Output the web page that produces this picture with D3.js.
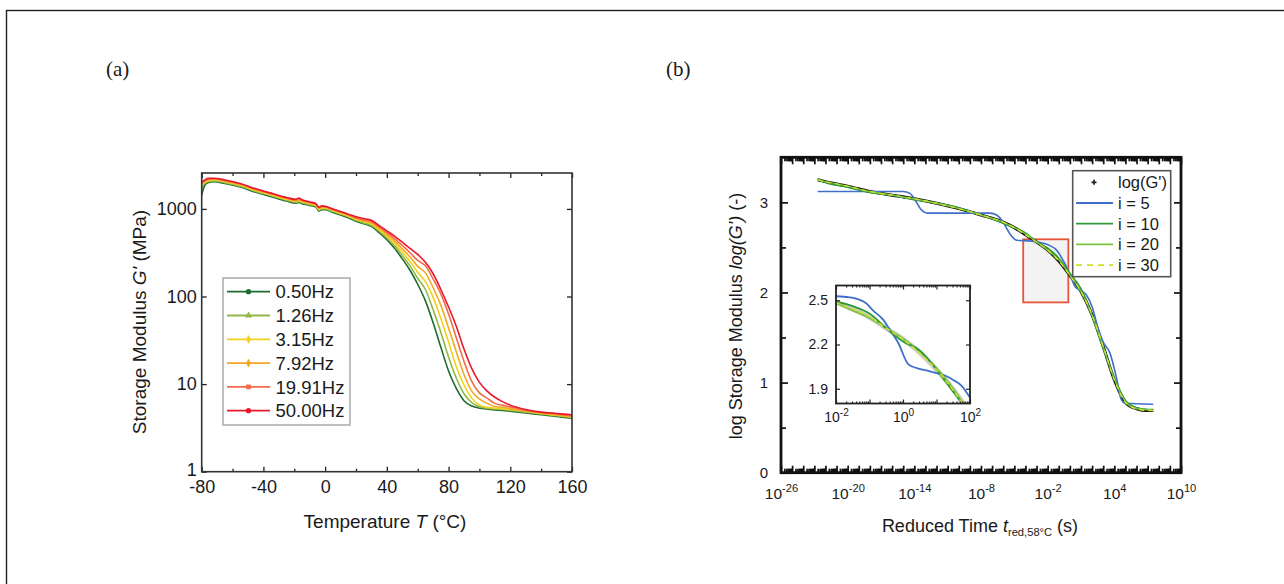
<!DOCTYPE html>
<html><head><meta charset="utf-8">
<script src="https://cdn.jsdelivr.net/npm/d3@7"></script>
<style>body{margin:0;background:#fff}svg{display:block}</style>
</head><body>
<svg id="c" width="1284" height="584"></svg>
<script>
// ---------- Panel (a) data ----------
const tempC = [-80,-78,-76,-72,-65,-55,-45,-35,-25,-19,-17,-15,-10,-6,-4,-2,0,5,10,15,20,25,30,35,40,45,50,55,60,65,70,75,80,85,90,95,100,105,110,115,120,130,140,150,160];
const freqLabels = ["0.50Hz","1.26Hz","3.15Hz","7.92Hz","19.91Hz","50.00Hz"];
const freqColors = ["#1e6b30","#8fb848","#f2d21a","#f5a623","#f26b4a","#e8192c"];
const freqSymbols = ["circle","triangle","diamond","diamond","square","circle"];
// log10 of storage modulus G' (MPa)
const logG_050 = [3.16,3.27,3.30,3.31,3.29,3.25,3.19,3.14,3.09,3.065,3.075,3.06,3.04,3.02,2.975,2.99,2.99,2.96,2.93,2.90,2.86,2.83,2.80,2.73,2.65,2.55,2.43,2.30,2.14,1.95,1.70,1.42,1.15,0.95,0.81,0.75,0.725,0.715,0.705,0.70,0.69,0.67,0.65,0.63,0.61];
const logG_126 = [3.24,3.29,3.31,3.32,3.30,3.26,3.20,3.15,3.10,3.075,3.085,3.07,3.05,3.03,2.985,3.00,3.00,2.97,2.94,2.91,2.87,2.84,2.814,2.746,2.67,2.578,2.468,2.35,2.208,2.08,1.85,1.59,1.31,1.07,0.89,0.79,0.74,0.725,0.715,0.71,0.70,0.68,0.66,0.64,0.62];
const logG_315 = [3.28,3.30,3.32,3.33,3.31,3.27,3.21,3.16,3.11,3.085,3.095,3.08,3.06,3.04,2.995,3.01,3.01,2.98,2.95,2.92,2.88,2.855,2.828,2.762,2.69,2.606,2.506,2.40,2.276,2.17,1.99,1.75,1.48,1.20,0.99,0.84,0.76,0.735,0.725,0.72,0.71,0.69,0.665,0.645,0.625];
const logG_792 = [3.29,3.31,3.33,3.34,3.32,3.28,3.22,3.17,3.12,3.095,3.105,3.09,3.07,3.05,3.005,3.02,3.02,2.99,2.96,2.93,2.89,2.865,2.842,2.778,2.71,2.634,2.544,2.45,2.344,2.27,2.10,1.90,1.64,1.37,1.11,0.92,0.83,0.78,0.745,0.735,0.72,0.695,0.67,0.65,0.63];
const logG_1991 = [3.30,3.32,3.34,3.345,3.325,3.285,3.225,3.175,3.125,3.10,3.115,3.10,3.075,3.055,3.015,3.03,3.025,2.995,2.965,2.935,2.90,2.875,2.856,2.794,2.73,2.662,2.582,2.50,2.412,2.35,2.20,2.03,1.80,1.53,1.26,1.03,0.90,0.84,0.78,0.76,0.74,0.70,0.675,0.66,0.64];
const logG_5000 = [3.31,3.33,3.35,3.35,3.33,3.29,3.23,3.18,3.13,3.11,3.125,3.105,3.08,3.06,3.02,3.035,3.03,3.00,2.97,2.94,2.91,2.89,2.87,2.81,2.75,2.69,2.62,2.55,2.48,2.39,2.26,2.08,1.88,1.66,1.40,1.18,1.02,0.92,0.85,0.80,0.76,0.71,0.68,0.665,0.65];
const xTicksA = [-80,-40,0,40,80,120,160];
const xMinorA = [-60,-20,20,60,100,140];
const yTicksA = [1,10,100,1000];

// ---------- Panel (b) data (x = exponent of reduced time, s) ----------
const tExpMain = [-22.7,-22,-20,-18,-16,-14,-12,-10,-8,-6,-5,-4,-3,-2,-1,0,1,2,3,4,5,6,7,7.5];
const logGData = [3.25,3.23,3.18,3.12,3.08,3.04,2.99,2.93,2.86,2.78,2.72,2.64,2.56,2.47,2.35,2.19,2.01,1.75,1.40,1.03,0.78,0.71,0.69,0.69];
const fitI10 = [3.26,3.22,3.17,3.11,3.08,3.03,2.99,2.94,2.86,2.77,2.72,2.66,2.56,2.49,2.38,2.21,2.04,1.74,1.38,1.05,0.80,0.72,0.70,0.70];
const fitI20 = [3.25,3.23,3.18,3.12,3.08,3.04,2.99,2.93,2.86,2.78,2.72,2.65,2.56,2.47,2.36,2.19,2.01,1.75,1.40,1.04,0.79,0.71,0.70,0.69];
const fitI30 = [3.25,3.23,3.18,3.12,3.08,3.04,2.99,2.93,2.86,2.78,2.72,2.64,2.56,2.47,2.35,2.19,2.01,1.75,1.40,1.03,0.78,0.71,0.69,0.69];
const tExpI5 = [-22.7,-15.0,-14.4,-13.9,-13.4,-12.8,-7.2,-6.6,-6.0,-5.4,-4.8,-3.5,-2.5,-1.8,-1.2,-0.5,0,0.5,1.0,1.5,2.0,2.5,3.0,3.6,4.2,4.6,5.0,7.5];
const fitI5 = [3.12,3.12,3.10,3.02,2.92,2.88,2.88,2.86,2.78,2.65,2.58,2.57,2.55,2.52,2.47,2.33,2.20,2.06,2.02,1.97,1.84,1.62,1.45,1.33,1.05,0.82,0.77,0.76];
const xTicksB = [-26,-20,-14,-8,-2,4,10];
const yTicksB = [0,1,2,3];
const fitLabels = ["log(G')","i = 5","i = 10","i = 20","i = 30"];
const fitColors = ["#111","#3f6fc8","#2a9a3a","#7cc444","#d2df2a"];
const zoomBoxX = [-4.2,-0.14];
const zoomBoxY = [1.89,2.59];
// inset
const tExpInsetI5 = [-2,-1.6,-1.38,-1.1,-0.89,-0.6,-0.39,-0.14,0.16,0.41,0.7,1.0,1.3,1.5,1.75,2.0];
const insetI5 = [2.527,2.52,2.51,2.48,2.43,2.37,2.30,2.21,2.065,2.04,2.025,2.006,1.985,1.96,1.92,1.84];
const tExpInset = [-2,-1.5,-1,-0.5,0,0.5,1,1.5,1.8];
const insetData = [2.49,2.44,2.385,2.31,2.235,2.145,2.03,1.895,1.80];
const insetI10 = [2.49,2.46,2.41,2.31,2.22,2.16,2.03,1.88,1.79];
const insetI20 = [2.48,2.43,2.38,2.31,2.24,2.15,2.04,1.90,1.80];
const insetI30 = [2.485,2.44,2.39,2.31,2.235,2.14,2.03,1.89,1.79];
const insetXTicks = [-2,0,2];
const insetYTicks = [1.9,2.2,2.5];

// ---------- drawing ----------
const FONT = "Liberation Sans, Arial, sans-serif";
const TXT = "#1a1a1a";
const svg = d3.select("#c");
svg.append("rect").attr("x",6.5).attr("y",10.5).attr("width",1400).attr("height",700)
  .attr("fill","none").attr("stroke","#222").attr("stroke-width",1.4);
svg.append("text").attr("x",106).attr("y",76).attr("font-family","Liberation Serif, serif")
  .attr("font-size",21).attr("fill",TXT).text("(a)");
svg.append("text").attr("x",666).attr("y",76).attr("font-family","Liberation Serif, serif")
  .attr("font-size",21).attr("fill",TXT).text("(b)");

function styleAxis(g, size){
  g.select(".domain").remove();
  g.selectAll(".tick line").attr("stroke","#222").attr("stroke-width",1.3);
  g.selectAll(".tick text").attr("font-family",FONT).attr("font-size",size).attr("fill",TXT);
}

// ===== Panel (a) =====
{
  const A = {l:201.7, r:572, t:173, b:471.7};
  const x = d3.scaleLinear([-80,160],[A.l,A.r]);
  const y = d3.scaleLog([1,2570],[A.b,A.t]);
  const g = svg.append("g");
  const cid = "clipA";
  svg.append("clipPath").attr("id",cid).append("rect").attr("x",A.l).attr("y",A.t).attr("width",A.r-A.l).attr("height",A.b-A.t);
  const series = [logG_050,logG_126,logG_315,logG_792,logG_1991,logG_5000];
  const line = d3.line().x((d,i)=>x(tempC[i])).y(d=>y(Math.pow(10,d))).curve(d3.curveMonotoneX);
  const cg = g.append("g").attr("clip-path",`url(#${cid})`);
  series.forEach((s,k)=>{
    cg.append("path").attr("d",line(s)).attr("fill","none").attr("stroke",freqColors[k]).attr("stroke-width",1.6);
  });
  // axes
  styleAxis(g.append("g").attr("transform",`translate(0,${A.b})`)
    .call(d3.axisBottom(x).tickValues(xTicksA).tickFormat(d=>String(d)).tickSizeInner(-5).tickSizeOuter(0).tickPadding(9)),18);
  styleAxis(g.append("g").attr("transform",`translate(0,${A.b})`)
    .call(d3.axisBottom(x).tickValues(xMinorA).tickFormat("").tickSizeInner(-3).tickSizeOuter(0)),18);
  styleAxis(g.append("g").attr("transform",`translate(0,${A.t})`)
    .call(d3.axisTop(x).tickValues(xTicksA).tickFormat("").tickSizeInner(-5).tickSizeOuter(0)),18);
  styleAxis(g.append("g").attr("transform",`translate(0,${A.t})`)
    .call(d3.axisTop(x).tickValues(xMinorA).tickFormat("").tickSizeInner(-3).tickSizeOuter(0)),18);
  const gyl = g.append("g").attr("transform",`translate(${A.l},0)`)
    .call(d3.axisLeft(y).tickValues(yTicksA).tickFormat(d=>String(d)).tickSizeInner(-5).tickSizeOuter(0).tickPadding(5));
  styleAxis(gyl,18);
  gyl.selectAll(".tick text").filter(d=>d===1).attr("dy","0.2em");
  styleAxis(g.append("g").attr("transform",`translate(${A.r},0)`)
    .call(d3.axisRight(y).tickValues(yTicksA).tickFormat("").tickSizeInner(-5).tickSizeOuter(0)),18);
  g.append("rect").attr("x",A.l).attr("y",A.t).attr("width",A.r-A.l).attr("height",A.b-A.t)
    .attr("fill","none").attr("stroke","#333").attr("stroke-width",1.6);
  // titles
  const xt = g.append("text").attr("x",385).attr("y",528).attr("text-anchor","middle")
    .attr("font-family",FONT).attr("font-size",19).attr("fill",TXT);
  xt.append("tspan").text("Temperature ");
  xt.append("tspan").attr("font-style","italic").text("T");
  xt.append("tspan").text(" (°C)");
  const yt = g.append("text").attr("transform","translate(146,322) rotate(-90)").attr("text-anchor","middle")
    .attr("font-family",FONT).attr("font-size",19).attr("fill",TXT);
  yt.append("tspan").text("Storage Modulus ");
  yt.append("tspan").attr("font-style","italic").text("G'");
  yt.append("tspan").text(" (MPa)");
  // legend
  const lg = g.append("g");
  lg.append("rect").attr("x",223).attr("y",278).attr("width",127).attr("height",147)
    .attr("fill","#fff").attr("stroke","#aaa").attr("stroke-width",1.5);
  freqLabels.forEach((lab,k)=>{
    const yy = 291.7 + k*23.8;
    lg.append("line").attr("x1",227).attr("x2",270).attr("y1",yy).attr("y2",yy)
      .attr("stroke",freqColors[k]).attr("stroke-width",1.8);
    const sym = {circle:d3.symbolCircle,triangle:d3.symbolTriangle,diamond:d3.symbolDiamond,square:d3.symbolSquare}[freqSymbols[k]];
    lg.append("path").attr("d",d3.symbol(sym,22)()).attr("transform",`translate(248.5,${yy})`).attr("fill",freqColors[k]);
    lg.append("text").attr("x",275.5).attr("y",yy).attr("dy","0.36em").attr("font-family",FONT)
      .attr("font-size",18.5).attr("fill",TXT).text(lab);
  });
}

// ===== Panel (b) =====
{
  const B = {l:781, r:1181, t:157.3, b:472.7};
  const x = d3.scaleLinear([-26,10],[B.l,B.r]);
  const y = d3.scaleLinear([0,3.5],[B.b,B.t]);
  const g = svg.append("g");
  svg.append("clipPath").attr("id","clipB").append("rect").attr("x",B.l).attr("y",B.t).attr("width",B.r-B.l).attr("height",B.b-B.t);
  // zoom box
  g.append("rect").attr("x",x(zoomBoxX[0])).attr("y",y(zoomBoxY[1]))
    .attr("width",x(zoomBoxX[1])-x(zoomBoxX[0])).attr("height",y(zoomBoxY[0])-y(zoomBoxY[1]))
    .attr("fill","#f3f3f3").attr("stroke","#e8533a").attr("stroke-width",1.8);
  const cg = g.append("g").attr("clip-path","url(#clipB)");
  const mk = (xs)=>d3.line().x((d,i)=>x(xs[i])).y(d=>y(d)).curve(d3.curveMonotoneX);
  cg.append("path").attr("d",mk(tExpMain)(logGData)).attr("fill","none").attr("stroke","#111").attr("stroke-width",3);
  cg.append("path").attr("d",mk(tExpI5)(fitI5)).attr("fill","none").attr("stroke",fitColors[1]).attr("stroke-width",1.6);
  cg.append("path").attr("d",mk(tExpMain)(fitI10)).attr("fill","none").attr("stroke",fitColors[2]).attr("stroke-width",1.8);
  cg.append("path").attr("d",mk(tExpMain)(fitI20)).attr("fill","none").attr("stroke",fitColors[3]).attr("stroke-width",1.4);
  cg.append("path").attr("d",mk(tExpMain)(fitI30)).attr("fill","none").attr("stroke",fitColors[4]).attr("stroke-width",1.4).attr("stroke-dasharray","5,4");
  // ticks: decades + log minors
  const decades = d3.range(-26,11,1);
  const minors = [];
  decades.slice(0,-1).forEach(n=>{ for(let m=2;m<=9;m++) minors.push(n+Math.log10(m)); });
  const axB = (sel)=>styleAxis(sel, 15);
  axB(g.append("g").attr("transform",`translate(0,${B.b})`)
    .call(d3.axisBottom(x).tickValues(decades).tickFormat("").tickSizeInner(-7).tickSizeOuter(0)));
  axB(g.append("g").attr("transform",`translate(0,${B.b})`)
    .call(d3.axisBottom(x).tickValues(minors).tickFormat("").tickSizeInner(-4).tickSizeOuter(0)));
  axB(g.append("g").attr("transform",`translate(0,${B.t})`)
    .call(d3.axisTop(x).tickValues(decades).tickFormat("").tickSizeInner(-7).tickSizeOuter(0)));
  axB(g.append("g").attr("transform",`translate(0,${B.t})`)
    .call(d3.axisTop(x).tickValues(minors).tickFormat("").tickSizeInner(-4).tickSizeOuter(0)));
  const gxl = g.append("g").attr("transform",`translate(0,${B.b})`)
    .call(d3.axisBottom(x).tickValues(xTicksB).tickSizeInner(0).tickSizeOuter(0).tickPadding(15));
  styleAxis(gxl,15.5);
  gxl.selectAll(".tick text").each(function(d){
    const t = d3.select(this); t.text(null);
    t.append("tspan").text("10");
    t.append("tspan").attr("dy","-0.6em").attr("font-size","0.72em").text(String(d));
  });
  const yMinorB = [0.5,1.5,2.5];
  axB(g.append("g").attr("transform",`translate(${B.l},0)`)
    .call(d3.axisLeft(y).tickValues(yTicksB).tickFormat(d=>String(d)).tickSizeInner(-7).tickSizeOuter(0).tickPadding(13)));
  axB(g.append("g").attr("transform",`translate(${B.l},0)`)
    .call(d3.axisLeft(y).tickValues(yMinorB).tickFormat("").tickSizeInner(-5).tickSizeOuter(0)));
  axB(g.append("g").attr("transform",`translate(${B.r},0)`)
    .call(d3.axisRight(y).tickValues(yTicksB).tickFormat("").tickSizeInner(-7).tickSizeOuter(0)));
  axB(g.append("g").attr("transform",`translate(${B.r},0)`)
    .call(d3.axisRight(y).tickValues(yMinorB).tickFormat("").tickSizeInner(-5).tickSizeOuter(0)));
  g.selectAll(".tick line").attr("stroke-width",1.7).attr("stroke","#111");
  g.append("rect").attr("x",B.l).attr("y",B.t).attr("width",B.r-B.l).attr("height",B.b-B.t)
    .attr("fill","none").attr("stroke","#111").attr("stroke-width",2.8);
  // titles
  const xt = g.append("text").attr("x",980).attr("y",532).attr("text-anchor","middle")
    .attr("font-family",FONT).attr("font-size",18).attr("fill",TXT);
  xt.append("tspan").text("Reduced Time ");
  xt.append("tspan").attr("font-style","italic").text("t");
  xt.append("tspan").attr("font-size","0.62em").attr("dy","0.35em").text("red,58°C");
  xt.append("tspan").attr("dy","-0.22em").text(" (s)");
  const yt = g.append("text").attr("transform","translate(742,316) rotate(-90)").attr("text-anchor","middle")
    .attr("font-family",FONT).attr("font-size",18).attr("fill",TXT);
  yt.append("tspan").text("log Storage Modulus ");
  yt.append("tspan").attr("font-style","italic").text("log(G')");
  yt.append("tspan").text(" (-)");
  // legend
  const lg = g.append("g");
  lg.append("rect").attr("x",1072.7).attr("y",170.7).attr("width",98).attr("height",106)
    .attr("fill","#fff").attr("stroke","#555").attr("stroke-width",1.6);
  fitLabels.forEach((lab,k)=>{
    const yy = 182.3 + k*20.7;
    if(k===0){
      lg.append("path").attr("d",d3.symbol(d3.symbolCross,14)()).attr("transform",`translate(1094,${yy})`).attr("fill","#222");
    } else {
      lg.append("line").attr("x1",1076).attr("x2",1113).attr("y1",yy).attr("y2",yy)
        .attr("stroke",fitColors[k]).attr("stroke-width",1.8).attr("stroke-dasharray",k===4?"6,5":null);
    }
    lg.append("text").attr("x",1118).attr("y",yy).attr("dy","0.36em").attr("font-family",FONT)
      .attr("font-size",16.5).attr("fill",TXT).text(lab);
  });

  // ===== Inset =====
  const I = {l:836, r:970, t:285.5, b:403.5};
  const xi = d3.scaleLinear([-2,2],[I.l,I.r]);
  const yi = d3.scaleLinear([1.8,2.6],[I.b,I.t]);
  const ig = g.append("g");
  ig.append("rect").attr("x",I.l).attr("y",I.t).attr("width",I.r-I.l).attr("height",I.b-I.t).attr("fill","#fff");
  svg.append("clipPath").attr("id","clipI").append("rect").attr("x",I.l).attr("y",I.t).attr("width",I.r-I.l).attr("height",I.b-I.t);
  const icg = ig.append("g").attr("clip-path","url(#clipI)");
  const mki = (xs)=>d3.line().x((d,i)=>xi(xs[i])).y(d=>yi(d)).curve(d3.curveMonotoneX);
  icg.append("path").attr("d",mki(tExpInset)(insetData)).attr("fill","none").attr("stroke","#bbb").attr("stroke-width",5).attr("opacity",0.7);
  icg.append("path").attr("d",mki(tExpInsetI5)(insetI5)).attr("fill","none").attr("stroke",fitColors[1]).attr("stroke-width",1.8);
  icg.append("path").attr("d",mki(tExpInset)(insetI20)).attr("fill","none").attr("stroke",fitColors[3]).attr("stroke-width",1.8);
  icg.append("path").attr("d",mki(tExpInset)(insetI10)).attr("fill","none").attr("stroke",fitColors[2]).attr("stroke-width",1.8);
  icg.append("path").attr("d",mki(tExpInset)(insetI30)).attr("fill","none").attr("stroke",fitColors[4]).attr("stroke-width",1.6).attr("stroke-dasharray","5,3");
  const idec = [-2,-1,0,1,2];
  const imin = [];
  [-2,-1,0,1].forEach(n=>{ for(let m=2;m<=9;m++) imin.push(n+Math.log10(m)); });
  const axI = sel=>styleAxis(sel,14);
  axI(ig.append("g").attr("transform",`translate(0,${I.b})`).call(d3.axisBottom(xi).tickValues(idec).tickFormat("").tickSizeInner(-4).tickSizeOuter(0)));
  axI(ig.append("g").attr("transform",`translate(0,${I.b})`).call(d3.axisBottom(xi).tickValues(imin).tickFormat("").tickSizeInner(-2).tickSizeOuter(0)));
  axI(ig.append("g").attr("transform",`translate(0,${I.t})`).call(d3.axisTop(xi).tickValues(idec).tickFormat("").tickSizeInner(-4).tickSizeOuter(0)));
  axI(ig.append("g").attr("transform",`translate(0,${I.t})`).call(d3.axisTop(xi).tickValues(imin).tickFormat("").tickSizeInner(-2).tickSizeOuter(0)));
  const gxi = ig.append("g").attr("transform",`translate(0,${I.b})`)
    .call(d3.axisBottom(xi).tickValues(insetXTicks).tickSizeInner(0).tickSizeOuter(0).tickPadding(9));
  styleAxis(gxi,14);
  gxi.selectAll(".tick text").each(function(d){
    const t = d3.select(this); t.text(null);
    t.append("tspan").text("10");
    t.append("tspan").attr("dy","-0.6em").attr("font-size","0.72em").text(String(d));
  });
  axI(ig.append("g").attr("transform",`translate(${I.l},0)`).call(d3.axisLeft(yi).tickValues(insetYTicks).tickFormat(d3.format(".1f")).tickSizeInner(-4).tickSizeOuter(0).tickPadding(8)));
  axI(ig.append("g").attr("transform",`translate(${I.r},0)`).call(d3.axisRight(yi).tickValues(insetYTicks).tickFormat("").tickSizeInner(-4).tickSizeOuter(0)));
  ig.selectAll(".tick line").attr("stroke-width",1.2).attr("stroke","#222");
  ig.append("rect").attr("x",I.l).attr("y",I.t).attr("width",I.r-I.l).attr("height",I.b-I.t)
    .attr("fill","none").attr("stroke","#222").attr("stroke-width",1.8);
}
</script>
</body></html>
